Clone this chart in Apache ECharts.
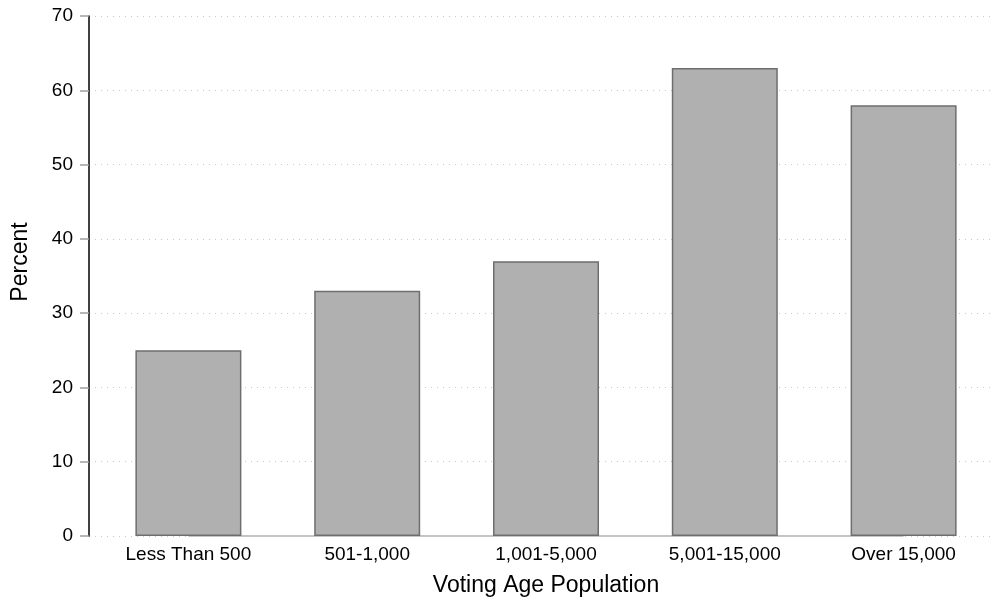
<!DOCTYPE html>
<html>
<head>
<meta charset="utf-8">
<script src="https://cdn.jsdelivr.net/npm/echarts@6/dist/echarts.min.js"></script>
<style>
html,body{margin:0;padding:0;background:#fff;}
#chart{width:993px;height:601px;}
</style>
</head>
<body>
<div id="chart"></div>
<script>
const categories = ['Less Than 500', '501-1,000', '1,001-5,000', '5,001-15,000', 'Over 15,000'];
const percentValues = [25, 33, 37, 63, 58];
const yTicks = { min: 0, max: 70, interval: 10 };
const xTitle = 'Voting Age Population';
const yTitle = 'Percent';

const FONT = '"Liberation Sans", Arial, Helvetica, sans-serif';
const chart = echarts.init(document.getElementById('chart'), null, { renderer: 'canvas' });

chart.setOption({
  backgroundColor: '#ffffff',
  animation: false,
  grid: [
    { left: 89, right: 0, top: 16, bottom: 65, containLabel: false, outerBoundsMode: 'none' },
    { left: 99, right: 0, top: 16, bottom: 65, containLabel: false, outerBoundsMode: 'none' }
  ],
  xAxis: [
    { type: 'value', gridIndex: 0, show: false, min: 0, max: 1 },
    {
      type: 'category', gridIndex: 1, data: categories,
      axisLine: { show: false }, axisTick: { show: false },
      axisLabel: { color: '#000', fontSize: 19, fontFamily: FONT, margin: 9 },
      name: xTitle, nameLocation: 'middle', nameGap: 38,
      nameTextStyle: { color: '#000', fontSize: 23, fontFamily: FONT }
    }
  ],
  yAxis: [
    {
      type: 'value', gridIndex: 0, min: yTicks.min, max: yTicks.max, interval: yTicks.interval,
      axisLine: { show: true, lineStyle: { color: '#000', width: 1.5 } },
      axisTick: { show: true, length: 9, lineStyle: { color: '#a0a0a0', width: 1.5 } },
      axisLabel: { color: '#000', fontSize: 19, fontFamily: FONT, margin: 16 },
      splitLine: { show: true, lineStyle: { color: '#c8c8c8', type: [1, 5], width: 1 } },
      name: yTitle, nameLocation: 'middle', nameGap: 57,
      nameTextStyle: { color: '#000', fontSize: 23, fontFamily: FONT, padding: [0, 0, 0, 28] }
    },
    { type: 'value', gridIndex: 1, show: false, min: yTicks.min, max: yTicks.max, interval: yTicks.interval, splitLine: { show: false } }
  ],
  series: [{
    type: 'bar',
    xAxisIndex: 1, yAxisIndex: 1,
    data: percentValues,
    barWidth: 106,
    itemStyle: { color: '#b0b0b0', borderColor: '#6e6e6e', borderWidth: 1.5 },
    markLine: {
      silent: true, symbol: 'none', label: { show: false }, z: 1,
      lineStyle: { color: '#c4c4c4', width: 2, type: 'solid' },
      data: [[{ coord: [0, 0] }, { coord: [categories.length - 1, 0] }]]
    }
  }]
});
</script>
</body>
</html>
